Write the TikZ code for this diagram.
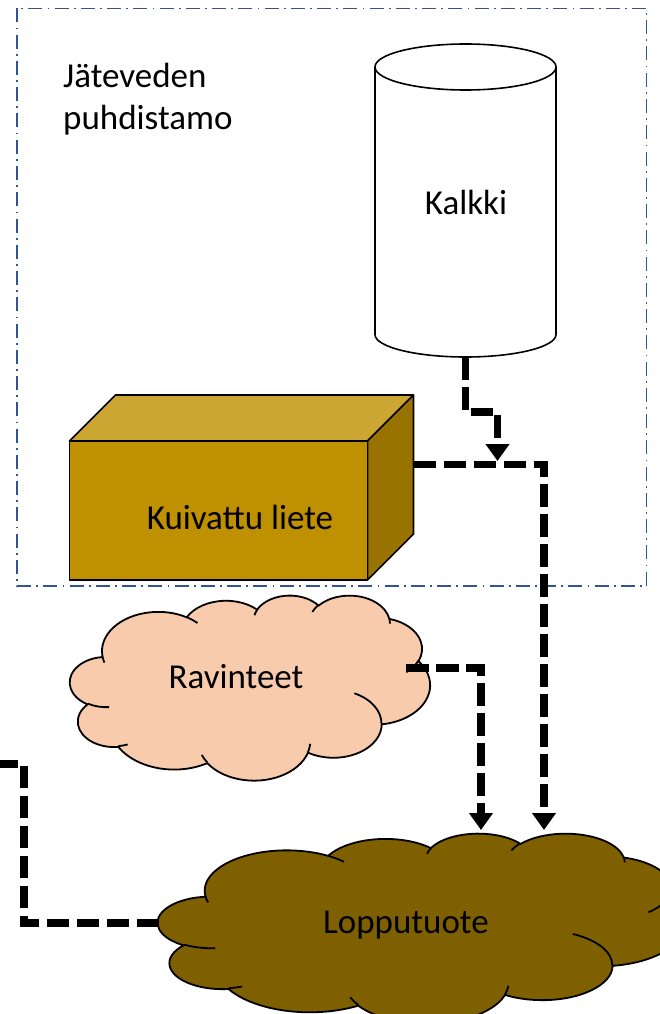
\documentclass[tikz,border=0pt]{standalone}
\usepackage{fontspec}
\setmainfont{Carlito}
\usetikzlibrary{arrows.meta}
\definecolor{framebl}{HTML}{2F5597}
\definecolor{goldfront}{HTML}{BF9000}
\definecolor{goldtop}{HTML}{CCA633}
\definecolor{goldside}{HTML}{997300}
\definecolor{ravfill}{HTML}{F8CBAD}
\definecolor{lopfill}{HTML}{7F6000}
\newcommand\pptcloud[5]{%
\begin{scope}[shift={(#1,#2)},xscale=#3,yscale=#4]
\draw[cloudline,fill=#5] (3.900,14.370)
 arc[start angle=-187.747, end angle=-59.63, x radius=6.753pt, y radius=9.190pt]
 arc[start angle=-152.03, end angle=-45.46, x radius=5.333pt, y radius=7.267pt]
 arc[start angle=-153.49, end angle=-37.32, x radius=4.365pt, y radius=5.945pt]
 arc[start angle=-139.71, end angle=-10.21, x radius=4.857pt, y radius=6.595pt]
 arc[start angle=-74.77, end angle=23.21, x radius=5.333pt, y radius=7.273pt]
 arc[start angle=-37.52, end angle=81.86, x radius=6.775pt, y radius=9.220pt]
 arc[start angle=0.46, end angle=121.98, x radius=5.785pt, y radius=7.867pt]
 arc[start angle=16.85, end angle=146.26, x radius=6.752pt, y radius=9.215pt]
 arc[start angle=58.98, end angle=150.20, x radius=7.720pt, y radius=10.543pt]
 arc[start angle=-276.69, end angle=-136.90, x radius=4.360pt, y radius=5.918pt]
 arc[start angle=-239.64, end angle=-95.89, x radius=4.345pt, y radius=5.945pt]
 -- cycle;
\draw[cloudline]
 (4.693,26.177) arc[start angle=85.546, end angle=120.36, x radius=4.345pt, y radius=5.945pt]
 (6.928,34.899) arc[start angle=68.23, end angle=83.31, x radius=4.360pt, y radius=5.918pt]
 (16.478,39.090) arc[start angle=146.26, end angle=158.47, x radius=6.752pt, y radius=9.215pt]
 (28.827,34.751) arc[start angle=4.738, end angle=16.845, x radius=6.752pt, y radius=9.215pt]
 (34.129,22.954) arc[start angle=-64.02, end angle=0.46, x radius=5.785pt, y radius=7.867pt]
 (41.798,15.354) arc[start angle=23.21, end angle=49.63, x radius=5.333pt, y radius=7.273pt]
 (38.324,5.426) arc[start angle=-10.21, end angle=0.821, x radius=4.857pt, y radius=6.595pt]
 (29.078,3.952) arc[start angle=-156.29, end angle=-139.71, x radius=4.857pt, y radius=6.595pt]
 (22.141,4.720) arc[start angle=-167.73, end angle=-153.49, x radius=4.365pt, y radius=5.945pt]
 (14.000,5.192) arc[start angle=-59.63, end angle=-45.74, x radius=6.753pt, y radius=9.190pt]
 (4.127,15.789) arc[start angle=163.19, end angle=172.253, x radius=6.753pt, y radius=9.190pt];
\end{scope}}
\begin{document}
\begin{tikzpicture}[x=1pt,y=1pt,
  cloudline/.style={draw=black,line width=1.8pt,line join=round},
  boxline/.style={draw=black,line width=1.6pt,line join=round},
  framestyle/.style={draw=framebl,line width=1.75pt,dash pattern=on 14pt off 5.25pt on 1.75pt off 5.25pt},
  flow/.style={draw=black,line width=7.5pt,dash pattern=on 22.5pt off 7.5pt,line join=miter},
  flowarrow/.style={flow,-{Triangle[length=17pt,width=23pt]}},
  txt/.style={inner sep=0pt,font=\fontsize{35}{43}\selectfont,text=black}]
\useasboundingbox (0,0) rectangle (660,-1014);
\clip (0,0) rectangle (660,-1014);
% frame
\draw[framestyle] (17,-8.5) rectangle (646.5,-586);
\node[txt,anchor=base west,align=left] (plantlbl) at (63,-130) {Jäteveden\\puhdistamo};
% cylinder
\draw[boxline,fill=white] (375,-67) -- (375,-334.5)
  arc[start angle=180,end angle=360,x radius=90.5pt,y radius=22.5pt] -- (556,-67);
\draw[boxline,fill=white] (465.5,-67) ellipse [x radius=90.5pt,y radius=23pt];
\node[txt,anchor=base] (kalkki) at (466,-214) {Kalkki};
% cube
\draw[boxline,fill=goldtop] (69.5,-441) -- (115.5,-395) -- (413.5,-395) -- (367.5,-441) -- cycle;
\draw[boxline,fill=goldside] (367.5,-441) -- (413.5,-395) -- (413.5,-534) -- (367.5,-580) -- cycle;
\draw[boxline,fill=goldfront] (69.5,-441) rectangle (367.5,-580);
\node[txt,anchor=base] (liete) at (240,-529) {Kuivattu liete};
% clouds
\pptcloud{70}{-595}{8.3333}{-4.2824}{ravfill}
\node[txt,anchor=base] (ravinteet) at (236,-688) {Ravinteet};
\pptcloud{158}{-833}{12.153}{-4.398}{lopfill}
\node[txt,anchor=base] (lopputuote) at (406,-933) {Lopputuote};
% connection points
\coordinate (cyl-s) at (465.5,-357);
\coordinate (c1) at (497.5,-412);
\coordinate (c1tip) at (497.5,-461);
\coordinate (box-e) at (413.5,-464.5);
\coordinate (c2) at (544,-464.5);
\coordinate (lop-n2) at (544,-830);
\coordinate (rav-e) at (406,-668);
\coordinate (lop-n1) at (481,-830);
\coordinate (lop-w) at (159,-923);
\coordinate (c4) at (24,-764);
\coordinate (offleft) at (-12,-764);
% connectors
\draw[flowarrow] (cyl-s) |- (c1) -- (c1tip);
\draw[flowarrow] (box-e) -- (c2) -- (lop-n2);
\draw[flowarrow] (rav-e) -| (lop-n1);
\draw[flow] (lop-w) -| (c4) -- (offleft);
\end{tikzpicture}
\end{document}
